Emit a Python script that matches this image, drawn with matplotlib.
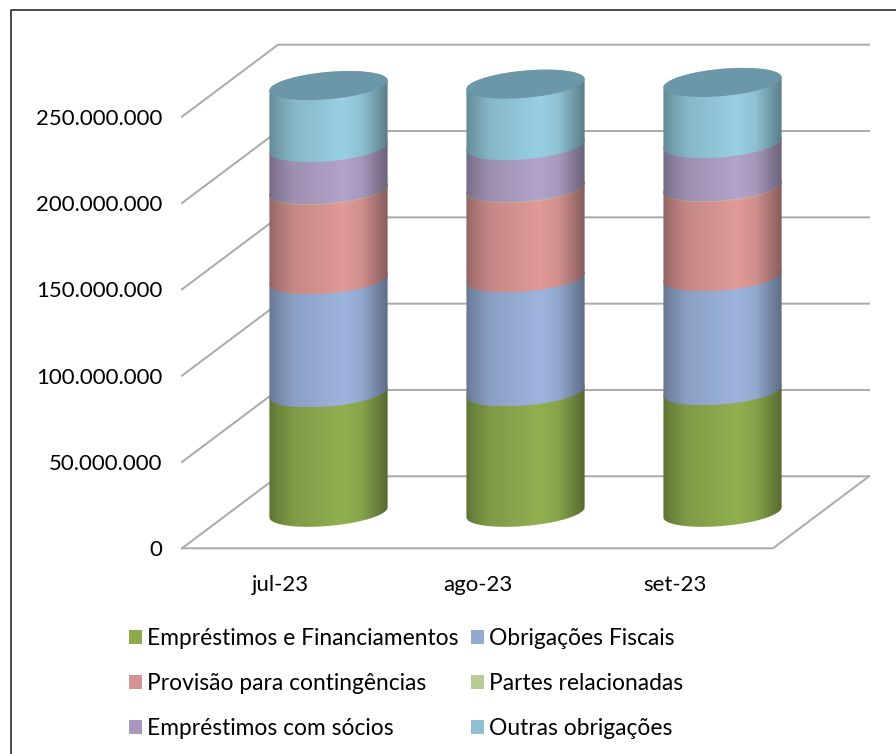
# Composicao das obrigacoes - cilindros empilhados com cara de 3D
import numpy as np
import matplotlib
matplotlib.use("Agg")
import matplotlib.pyplot as plt
from matplotlib.lines import Line2D
from matplotlib.patches import PathPatch, Rectangle
from matplotlib.path import Path
from matplotlib.ticker import FuncFormatter

plt.rcParams['font.family'] = ['Lato', 'DejaVu Sans']

# dados
meses = ['jul-23', 'ago-23', 'set-23']
series = ['Empréstimos e Financiamentos', 'Obrigações Fiscais', 'Provisão para contingências',
          'Partes relacionadas', 'Empréstimos com sócios', 'Outras obrigações']
emprestimos = [69.2e6, 69.8e6, 70.4e6]
obrigacoes = [65.5e6, 66.0e6, 66.0e6]
provisao = [51.6e6, 51.6e6, 51.6e6]
partes = [0.6e6, 0.6e6, 0.6e6]
socios = [24.4e6, 24.4e6, 25.0e6]
outras = [35.9e6, 35.6e6, 35.4e6]
valores = [emprestimos, obrigacoes, provisao, partes, socios, outras]
ticks_y = [0, 50e6, 100e6, 150e6, 200e6, 250e6]

cores = ['#90B050', '#9DB5DE', '#E09A98', '#D8B8A0', '#B3A3CA', '#98D0E2']
cores_legenda = ['#8FA94F', '#94A9D2', '#D29493', '#B7CC93', '#A898BE', '#90C0D2']
cor_tampa = '#6B97A8'
cor_grade = '#A9A9A9'

W, H = 896, 754
fig = plt.figure(figsize=(W / 100, H / 100), dpi=100)

# moldura (so esquerda e topo aparecem no recorte)
fig.add_artist(Line2D([10.5 / W, 10.5 / W, 1], [0, 1 - 10 / H, 1 - 10 / H], transform=fig.transFigure,
                      color='#2A2A2A', lw=1.2))

# plano da frente: x 182-773, y 548-116
ax = fig.add_axes([182 / W, 1 - 548.3 / H, 591 / W, 431.6 / H])
ax.set_facecolor('none')
for s in ax.spines.values():
    s.set_visible(False)

prof_x = 0.4875     # profundidade em unidades de categoria
prof_y = 41.7e6     # profundidade em unidades de valor
raio_x = 0.30
raio_y = 7.9e6
incl = 2.9e6

# grade
for t in ticks_y:
    ax.plot([-0.5, -0.5 + prof_x, 2.5 + prof_x], [t, t + prof_y, t + prof_y], color=cor_grade,
            lw=1.4, clip_on=False, zorder=1, solid_joinstyle='miter')
ax.plot([-0.5, 2.5, 2.5 + prof_x], [0, 0, prof_y], color=cor_grade, lw=1.4, clip_on=False, zorder=1,
        solid_joinstyle='miter')

# sombreamento horizontal do cilindro
pos = np.array([0, 0.06, 0.2, 0.45, 0.62, 0.78, 0.92, 1])
luz = np.array([0.66, 0.74, 0.88, 0.95, 1.0, 0.93, 0.72, 0.6])
u = np.linspace(0, 1, 200)
fator = np.interp(u, pos, luz)


def arco(cx, cy, t0, t1):
    t = np.linspace(t0, t1, 60)
    return cx + raio_x * np.cos(t), cy + incl * np.cos(t) + raio_y * np.sin(t)


for i in range(len(meses)):
    cx = i + prof_x / 2
    base = prof_y / 2
    for j, vals in enumerate(valores):
        topo = base + vals[i]
        x0, y0 = arco(cx, base, np.pi, 2 * np.pi)       # frente, embaixo
        x1, y1 = arco(cx, topo, 0, np.pi)               # fundo, em cima
        vx = np.r_[x0, x1, x0[0]]
        vy = np.r_[y0, y1, y0[0]]
        corpo = PathPatch(Path(np.c_[vx, vy]), facecolor='none', edgecolor='none', zorder=3 + j,
                          clip_on=False)
        ax.add_patch(corpo)
        rgb = np.array(matplotlib.colors.to_rgb(cores[j]))
        img = np.clip(fator[None, :, None] * rgb[None, None, :], 0, 1)
        im = ax.imshow(img, extent=[cx - raio_x, cx + raio_x, vy.min(), vy.max()], aspect='auto',
                       zorder=3 + j, interpolation='bilinear')
        im.set_clip_box(fig.bbox)   # sem isso a imagem corta no limite do axes
        im.set_clip_path(corpo)
        base = topo
    x2, y2 = arco(cx, base, 0, 2 * np.pi)
    ax.fill(x2, y2, color=cor_tampa, lw=0, zorder=10, clip_on=False)

ax.set_xlim(-0.5, 2.5)
ax.set_ylim(0, 250e6)
ax.set_xticks(range(len(meses)))
ax.set_xticklabels(meses)
ax.set_yticks(ticks_y)
ax.yaxis.set_major_formatter(FuncFormatter(lambda v, p: f'{int(v):,}'.replace(',', '.')))
ax.tick_params(axis='both', length=0, labelsize=16, labelcolor='black')
ax.tick_params(axis='y', pad=14)
ax.tick_params(axis='x', pad=19)

# legenda: preenche por coluna, entao reordena
marcas = [Rectangle((0, 0), 1, 1, facecolor=c, edgecolor='none') for c in cores_legenda]
ordem = [0, 2, 4, 1, 3, 5]
fig.legend([marcas[k] for k in ordem], [series[k] for k in ordem], ncols=2, frameon=False,
           loc='upper left', bbox_to_anchor=(129 / W, 1 - 628 / H), fontsize=16.4,
           handlelength=0.58, handleheight=0.58, handletextpad=0.22, labelspacing=1.05,
           columnspacing=0.55, borderpad=0, borderaxespad=0)

fig.savefig('out.png', dpi=100)
